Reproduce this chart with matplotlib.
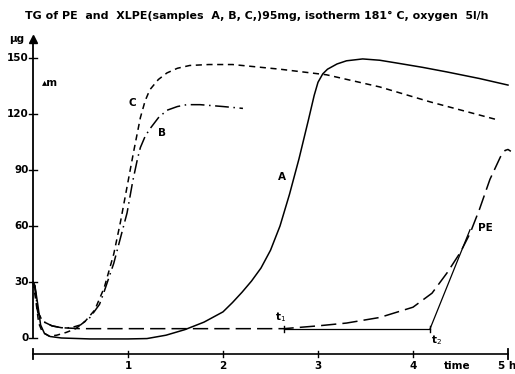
import matplotlib
matplotlib.use("Agg")
import matplotlib.pyplot as plt

# ---- data ----
t_A = [0, 0.02, 0.05, 0.08, 0.12, 0.18, 0.3, 0.6, 1.0, 1.2, 1.4, 1.6, 1.8, 2.0, 2.1, 2.2,
       2.3, 2.4, 2.5, 2.6, 2.7, 2.8, 2.9, 2.96, 3.0, 3.05, 3.1, 3.2, 3.3, 3.47, 3.65,
       3.83, 4.1, 4.36, 4.7, 5.0]
A = [30, 28, 18, 7, 2.5, 0.8, 0, -0.5, -0.5, -0.3, 1.5, 4.5, 8.5, 14, 19, 24.5,
     30.5, 37.5, 47, 60, 77, 96, 117, 130, 137, 141.5, 144, 146.8, 148.5, 149.5, 148.8,
     147.3, 145, 142.5, 139, 135.5]

t_B = [0, 0.02, 0.05, 0.1, 0.2, 0.3, 0.4, 0.5, 0.6, 0.7, 0.75, 0.85, 0.99, 1.05, 1.1,
       1.13, 1.18, 1.23, 1.32, 1.41, 1.52, 1.62, 1.76, 2.0, 2.21]
B = [30, 28, 14, 9, 6.5, 5.5, 5.5, 7, 11, 18, 25, 40, 67, 84, 96,
     102, 108, 112, 118, 122, 124, 125, 125, 124, 123]

t_C = [0, 0.03, 0.06, 0.1, 0.17, 0.25, 0.35, 0.45, 0.55, 0.65, 0.75, 0.85, 0.92, 0.99,
       1.06, 1.13, 1.18, 1.23, 1.32, 1.41, 1.52, 1.65, 1.85, 2.1, 2.6, 3.09, 3.65, 4.18, 4.88]
C = [30, 20, 8, 3, 1, 1.5, 3, 5, 9, 15, 27, 45, 62, 81,
     100, 118, 127, 133, 138.5, 142, 144.5, 146, 146.5, 146.5, 144, 141, 134.5, 126.5, 117]

t_PE = [0, 0.02, 0.05, 0.1, 0.2, 0.3, 0.5, 1.0, 2.0, 2.64, 3.0, 3.3, 3.65, 4.0, 4.2,
        4.36, 4.5, 4.6, 4.7, 4.81, 4.92, 4.97, 5.0, 5.03]
PE = [30, 27, 14, 9, 6.5, 5.5, 5, 5, 5, 5, 6.5, 8, 11, 16.5, 24,
      35, 46, 56, 69, 85, 97, 100.5, 101, 100]

t1, t2 = 2.64, 4.18
base_level = 5
tangent_t = [4.18, 4.6]
tangent_v = [5, 58]

y_ticks = [0, 30, 60, 90, 120, 150]
y_tick_labels = ["0", "30", "60", "90", "120", "150"]
x_ticks = [1, 2, 3, 4]
x_tick_labels = ["1", "2", "3", "4"]

title = "TG of PE  and  XLPE(samples  A, B, C,)95mg, isotherm 181° C, oxygen  5l/h"

# ---- figure: data coordinates mapped to pixel layout ----
W, H = 515, 374
X0, SX = 33, 95.0      # px of t=0, px per hour
Y0, SY = 338, 280/150  # px of v=0, px per µg
fig = plt.figure(figsize=(W/100, H/100), dpi=100)
ax = fig.add_axes([0, 0, 1, 1])
ax.set_xlim(-X0/SX, (W-X0)/SX)
ax.set_ylim((Y0-H)/SY, Y0/SY)
ax.axis("off")

k = "black"
lw = 1.1
fw = "bold"
ff = "DejaVu Sans"
fs = 7.5

# y axis with arrow
ax.plot([0, 0], [0, 158], color=k, lw=1.3, solid_capstyle="butt")
ax.plot([0], [160], marker="^", color=k, markersize=6)
dx = 4/SX
for v in y_ticks:
    ax.plot([-dx, dx], [v, v], color=k, lw=1.0)
for v, lab in zip(y_ticks, y_tick_labels):
    ax.text(-4.5/SX, v, lab, ha="right", va="center", fontsize=fs, fontweight=fw, family=ff)
ax.text(-16/SX, 160, "µg", ha="center", va="center", fontsize=fs, fontweight=fw, family=ff)
ax.text(0.18, 136.5, "▴m", ha="center", va="center", fontsize=fs, fontweight=fw, family=ff)

# x axis (separate, below)
vx = (Y0-354)/SY
ax.plot([0, 5], [vx, vx], color=k, lw=1.2)
for t in [0, 5]:
    ax.plot([t, t], [vx-5/SY, vx+5/SY], color=k, lw=1.3)
for t in x_ticks:
    ax.plot([t, t], [vx-3/SY, vx+3/SY], color=k, lw=1.0)
vl = (Y0-366)/SY
for t, lab in zip(x_ticks, x_tick_labels):
    ax.text(t, vl, lab, ha="center", va="center", fontsize=fs, fontweight=fw, family=ff)
ax.text(4.46, vl, "time", ha="center", va="center", fontsize=fs, fontweight=fw, family=ff)
ax.text(4.99, vl, "5 h", ha="center", va="center", fontsize=fs, fontweight=fw, family=ff)

# curves
ax.plot(t_A, A, color=k, lw=lw, linestyle="-")
ax.plot(t_B, B, color=k, lw=lw, linestyle=(0, (9, 3, 1, 3)))
ax.plot(t_C, C, color=k, lw=lw, linestyle=(0, (4, 3)))
ax.plot(t_PE, PE, color=k, lw=lw, linestyle=(0, (10, 4)))

# construction lines
ax.plot([t1, t2], [base_level, base_level], color=k, lw=0.9)
ax.plot(tangent_t, tangent_v, color=k, lw=0.9)
for t in [t1, t2]:
    ax.plot([t, t], [base_level-3/SY, base_level+3/SY], color=k, lw=1.0)

# labels
ax.text(1.05, 126, "C", ha="center", va="center", fontsize=fs, fontweight=fw, family=ff)
ax.text(1.36, 110, "B", ha="center", va="center", fontsize=fs, fontweight=fw, family=ff)
ax.text(2.62, 86, "A", ha="center", va="center", fontsize=fs, fontweight=fw, family=ff)
ax.text(4.68, 59, "PE", ha="left", va="center", fontsize=fs, fontweight=fw, family=ff)
ax.text(2.61, 11, "t$_1$", ha="center", va="center", fontsize=fs, fontweight=fw, family=ff)
ax.text(4.25, -1, "t$_2$", ha="center", va="center", fontsize=fs, fontweight=fw, family=ff)

# title
ax.text((257-X0)/SX, (Y0-16)/SY, title, ha="center", va="center",
        fontsize=7.9, fontweight=fw, family=ff)

fig.savefig("out.png", dpi=100)
